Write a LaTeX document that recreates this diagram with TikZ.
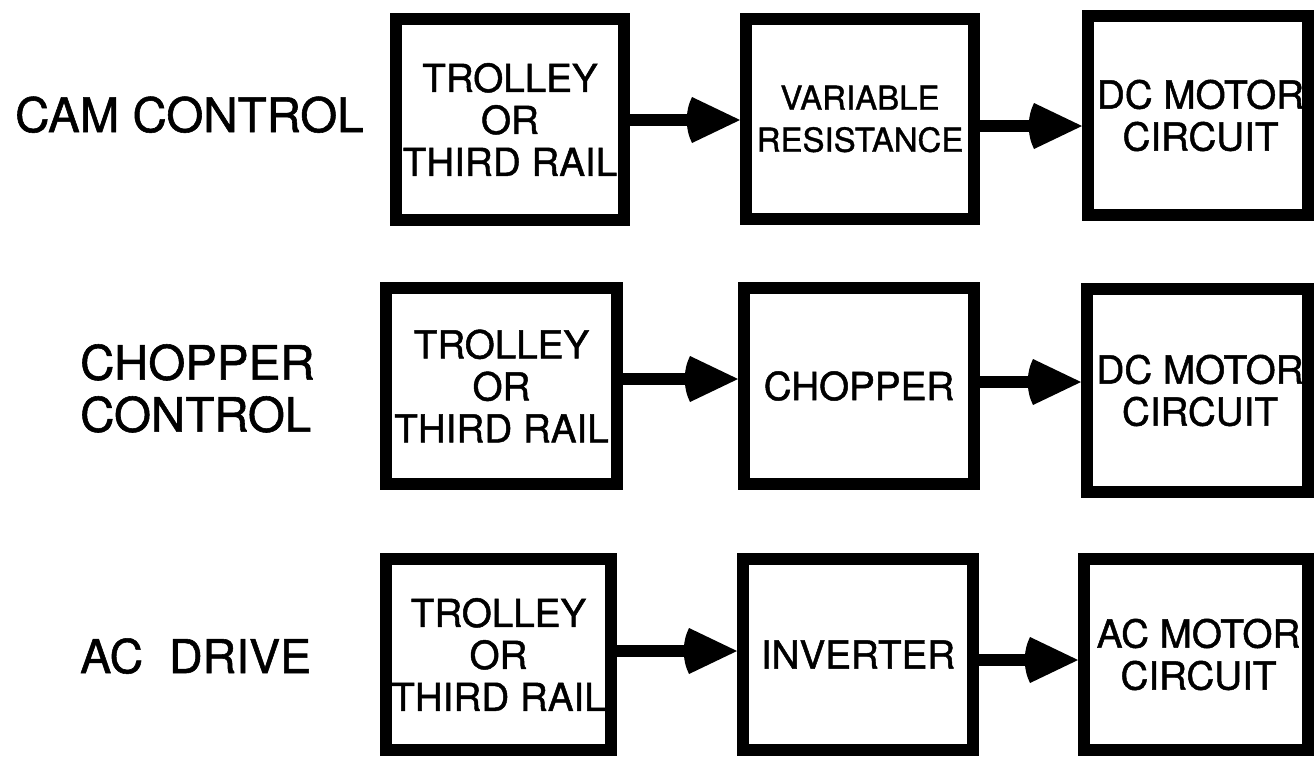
\documentclass[tikz,border=0pt]{standalone}
\usepackage{fontspec}
\usepackage{graphicx}
\setmainfont{TeX Gyre Heros}[FakeBold=1.2]
\usetikzlibrary{calc}
\tikzset{
  blockbox/.style={draw=black, line width=12pt, inner sep=0pt, align=center,
    font=\fontsize{38.6}{42}\selectfont},
  shaft/.style={draw=black, line width=12pt},
  headfill/.style={fill=black},
  rowlabel/.style={inner sep=0pt, align=left, font=\fontsize{47.5}{52}\selectfont},
}
\newcommand{\linkarrow}[3]{%
  \coordinate (#2tip) at (#2.west |- 0,#3);
  \draw[shaft] (#1.east |- #2tip) -- ($(#2tip)+(-44,0)$);
  \fill[headfill] (#2tip) -- ($(#2tip)+(-48,-23)$)
    .. controls ($(#2tip)+(-55,-9)$) and ($(#2tip)+(-55,9)$) .. ($(#2tip)+(-48,23)$) -- cycle;
}
\newcommand{\rs}{\hspace*{5pt}}
\begin{document}
\begin{tikzpicture}[x=1pt,y=-1pt]
\useasboundingbox (0,0) rectangle (1314,758);

% row labels
\node[rowlabel, anchor=base west] (L1) at (15,132) {CAM CONTROL};
\node[rowlabel, anchor=north west] (L2) at (80,344) {CHOPPER\\CONTROL};
\node[rowlabel, anchor=base west, font=\fontsize{46.5}{52}\selectfont] (L3) at (80,673) {AC\ \ DRIVE};

% row 1
\node[blockbox, minimum width=228pt, minimum height=201pt] (A1) at (510,119.5) {TROLLEY\\OR\\THIRD RAIL};
\node[blockbox, minimum width=228pt, minimum height=200pt, font=\fontsize{33}{42}\selectfont] (B1) at (860,119) {VARIABLE\\RESISTANCE};
\node[blockbox, minimum width=220pt, minimum height=199pt] (C1) at (1198,115.5) {\rs DC MOTOR\\\rs CIRCUIT};

% row 2
\node[blockbox, minimum width=231pt, minimum height=196pt] (A2) at (501.5,386) {TROLLEY\\OR\\THIRD RAIL};
\node[blockbox, minimum width=230pt, minimum height=196pt] (B2) at (859,386) {CHOPPER};
\node[blockbox, minimum width=221pt, minimum height=203pt] (C2) at (1197.5,390.5) {\rs DC MOTOR\\\rs CIRCUIT};

% row 3
\node[blockbox, minimum width=225pt, minimum height=191pt] (A3) at (498.5,654.5) {TROLLEY\\OR\\THIRD RAIL};
\node[blockbox, minimum width=230pt, minimum height=191pt] (B3) at (858,654.5) {INVERTER};
\node[blockbox, minimum width=224pt, minimum height=191pt] (C3) at (1196,654.5) {\rs AC MOTOR\\\rs CIRCUIT};

% connectors
\linkarrow{A1}{B1}{120}
\linkarrow{B1}{C1}{126}
\linkarrow{A2}{B2}{379}
\linkarrow{B2}{C2}{382}
\linkarrow{A3}{B3}{651}
\linkarrow{B3}{C3}{660}
\end{tikzpicture}
\end{document}
